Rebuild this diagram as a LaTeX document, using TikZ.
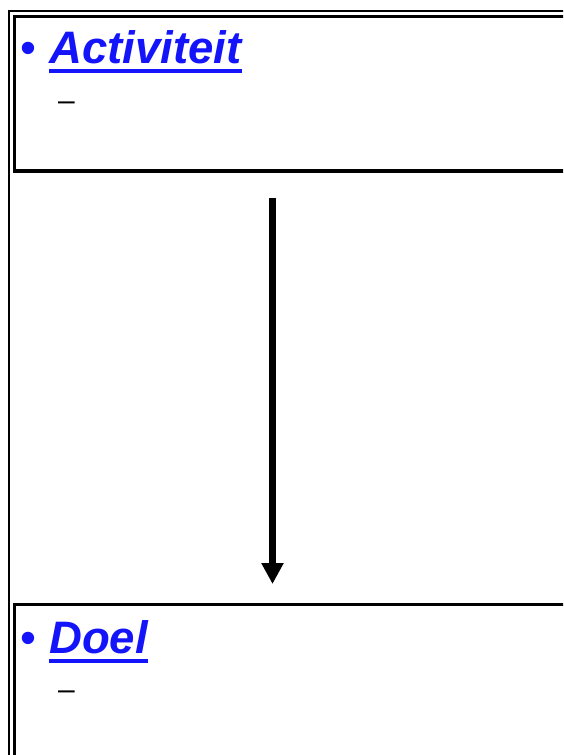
\documentclass[tikz,border=0pt]{standalone}
\usepackage{fontspec}
\setmainfont{Liberation Sans}
\usetikzlibrary{arrows.meta,calc,positioning}
\definecolor{linkblue}{RGB}{20,20,250}
\tikzset{
  panel/.style={draw,line width=3.5pt,minimum width=580pt,inner sep=0pt,anchor=north west},
  heading/.style={text=linkblue,font=\fontsize{45.5}{50}\selectfont\bfseries\itshape,inner sep=0pt,anchor=base west},
  bulletmark/.style={text=linkblue,font=\fontsize{45.5}{50}\selectfont,inner sep=0pt,anchor=base west},
  subdash/.style={font=\fontsize{30}{34}\selectfont,inner sep=0pt,anchor=base west},
  flow/.style={line width=6.5pt,-{Triangle[length=21pt,width=21pt]}}
}

\begin{document}
\begin{tikzpicture}[x=1pt,y=-1pt,line join=miter]
\useasboundingbox (0,0) rectangle (563,755);
\clip (0,0) rectangle (563,755);
\fill[white] (0,0) rectangle (563,755);
% --- outer frame
\draw[line width=2pt] (9,11) rectangle (620,800);
% --- top panel: activity
\node[panel,minimum height=154.5pt] (actbox) at (12.5,14.5) {};
\node[bulletmark] (actdot) at (20,63) {•};
\node[heading] (acttitle) at (49,63) {Activiteit};
\fill[linkblue] ([yshift=-6pt]acttitle.base west) rectangle ([yshift=-10pt]acttitle.base east);
\node[subdash] (actsub) at (58,110) {–};
% --- bottom panel: goal
\node[panel,line width=3pt,minimum height=200pt] (doelbox) at (12.5,603) {};
\node[bulletmark] (doeldot) at (20,653) {•};
\node[heading] (doeltitle) at (49,653) {Doel};
\fill[linkblue] ([yshift=-6pt]doeltitle.base west) rectangle ([yshift=-10pt]doeltitle.base east);
\node[subdash] (doelsub) at (58,699) {–};
% --- arrow between the panels
\coordinate (axis) at (272.5,0);
\draw[flow,shorten <=25pt,shorten >=19pt] (actbox.south -| axis) -- (doelbox.north -| axis);
\end{tikzpicture}
\end{document}
